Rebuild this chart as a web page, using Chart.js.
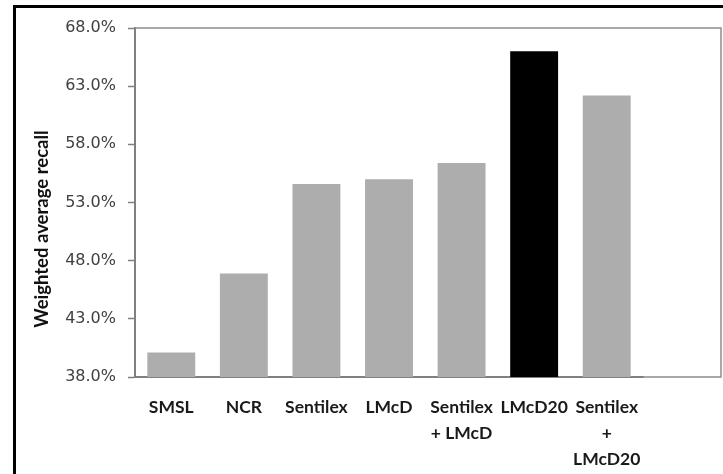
<!DOCTYPE html>
<html lang="en">
<head>
    <meta charset="UTF-8">
    <title>Weighted average recall</title>
    <style>
        body {
            margin: 0;
            background: #ffffff;
        }

        .wrap {
            position: relative;
            width: 723px;
            height: 474px;
        }

        .frame {
            position: absolute;
            left: 13px;
            top: 5px;
            width: 720px;
            height: 480px;
            border-left: 3px solid #000;
            border-top: 3px solid #000;
            pointer-events: none;
        }
    </style>
</head>
<body>
    <div class="wrap">
        <canvas id="recallChart" width="723" height="474"></canvas>
        <div class="frame"></div>
    </div>

    <script src="https://cdn.jsdelivr.net/npm/chart.js"></script>
    <script>
        // data
        const methods = ['SMSL', 'NCR', 'Sentilex', 'LMcD', ['Sentilex', '+ LMcD'], 'LMcD20', ['Sentilex', '+', 'LMcD20']];
        const recall = [40.1, 46.9, 54.6, 55.0, 56.4, 66.0, 62.2];
        const barColors = ['#adadad', '#adadad', '#adadad', '#adadad', '#adadad', '#000000', '#adadad'];
        const yMin = 38;
        const yMax = 68;
        const yStep = 5;
        const yTitle = 'Weighted average recall';

        // plot frame (top + right side) and the rotated axis title
        const framePlugin = {
            id: 'framePlugin',
            afterDraw(chart) {
                const ctx = chart.ctx;
                const a = chart.chartArea;
                const right = chart.width - 2;
                ctx.save();
                ctx.strokeStyle = '#8c8c8c';
                ctx.lineWidth = 1.5;
                ctx.beginPath();
                ctx.moveTo(a.left, a.top);
                ctx.lineTo(right, a.top);
                ctx.lineTo(right, a.bottom);
                ctx.lineTo(a.right, a.bottom);
                ctx.stroke();

                ctx.translate(42, 229);
                ctx.rotate(-Math.PI / 2);
                ctx.font = 'bold 18.5px Lato';
                ctx.fillStyle = '#111';
                ctx.textAlign = 'center';
                ctx.textBaseline = 'middle';
                ctx.fillText(yTitle, 0, 0);
                ctx.restore();
            }
        };

        const ctx = document.getElementById('recallChart').getContext('2d');
        const recallChart = new Chart(ctx, {
            type: 'bar',
            data: {
                labels: methods,
                datasets: [{
                    label: yTitle,
                    data: recall,
                    backgroundColor: barColors,
                    borderWidth: 0,
                    barPercentage: 0.66,
                    categoryPercentage: 1
                }]
            },
            plugins: [framePlugin],
            options: {
                responsive: false,
                animation: false,
                layout: {
                    padding: { left: 25, top: 28, right: 80, bottom: 0 }
                },
                plugins: {
                    legend: { display: false },
                    tooltip: { enabled: false }
                },
                scales: {
                    y: {
                        min: yMin,
                        max: yMax,
                        ticks: {
                            stepSize: yStep,
                            padding: 12,
                            color: '#404040',
                            font: { family: 'DejaVu Sans', size: 16 },
                            callback: (v) => v.toFixed(1) + '%'
                        },
                        grid: {
                            drawOnChartArea: false,
                            tickLength: 7,
                            tickWidth: 1.5,
                            color: '#808080'
                        },
                        border: { color: '#808080', width: 2 },
                        afterFit: (scale) => { scale.width = 110; }
                    },
                    x: {
                        ticks: {
                            padding: 9,
                            maxRotation: 0,
                            autoSkip: false,
                            color: '#1a1a1a',
                            font: { family: 'Lato', size: 17.5, weight: 'bold', lineHeight: 1.5 }
                        },
                        grid: { display: false },
                        border: { color: '#808080', width: 2 },
                        afterFit: (scale) => { scale.height = 97; }
                    }
                }
            }
        });
    </script>
</body>
</html>
